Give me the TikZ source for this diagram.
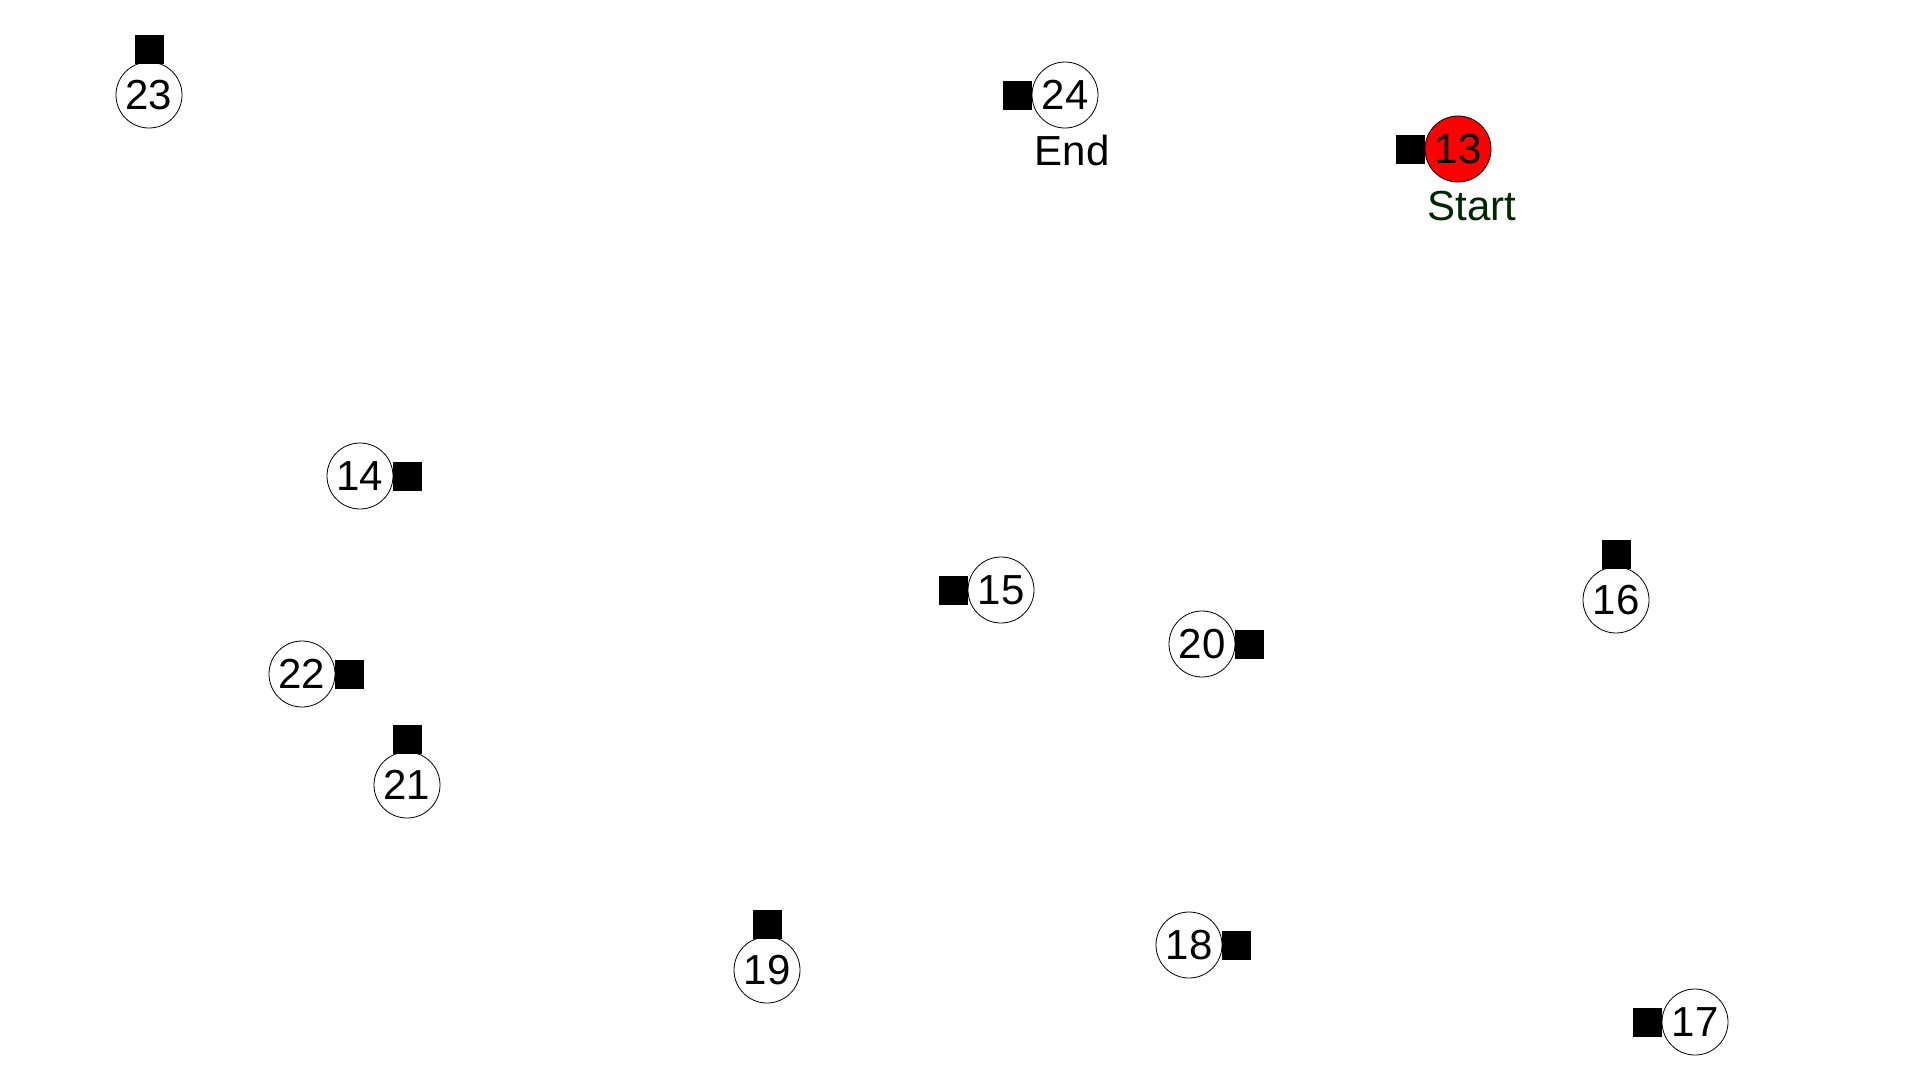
\documentclass[tikz,border=0pt]{standalone}
\usepackage{fontspec}
\setmainfont{Liberation Sans}
\definecolor{startgreen}{RGB}{0,40,0}
\begin{document}
\begin{tikzpicture}[x=1pt,y=-1pt,
  vtx/.style={circle,draw=black,line width=0.8pt,fill=white,minimum size=66pt,inner sep=0pt,font=\fontsize{42}{42}\selectfont},
  sq/.style={fill=black,minimum size=29pt,inner sep=0pt},
  lbl/.style={font=\fontsize{42}{42}\selectfont,anchor=base}]
\useasboundingbox (0,0) rectangle (1920,1080);
% vertices
\node[vtx] (n23) at (149,95) {23};
\node[vtx] (n24) at (1065,95) {24};
\node[vtx,fill=red] (n13) at (1458,149) {13};
\node[vtx] (n14) at (360,476) {14};
\node[vtx] (n15) at (1001,590) {15};
\node[vtx] (n20) at (1202,644) {20};
\node[vtx] (n22) at (302,674) {22};
\node[vtx] (n21) at (407,785) {21};
\node[vtx] (n19) at (767,970) {19};
\node[vtx] (n18) at (1189,945) {18};
\node[vtx] (n16) at (1616,600) {16};
\node[vtx] (n17) at (1695,1022) {17};
% markers (drawn behind-touching the circles)
\node[sq,anchor=south] (s23) at ([yshift=-3pt]n23.north) {};
\node[sq,anchor=east] (s24) at ([xshift=1pt]n24.west) {};
\node[sq,anchor=east] (s13) at ([xshift=1pt]n13.west) {};
\node[sq,anchor=west] (s14) at ([xshift=-1pt]n14.east) {};
\node[sq,anchor=east] (s15) at ([xshift=1pt]n15.west) {};
\node[sq,anchor=west] (s20) at ([xshift=-1pt]n20.east) {};
\node[sq,anchor=west] (s22) at ([xshift=-1pt]n22.east) {};
\node[sq,anchor=south] (s21) at ([yshift=-3pt]n21.north) {};
\node[sq,anchor=south] (s19) at ([yshift=-3pt]n19.north) {};
\node[sq,anchor=west] (s18) at ([xshift=-1pt]n18.east) {};
\node[sq,anchor=south] (s16) at ([yshift=-3pt]n16.north) {};
\node[sq,anchor=east] (s17) at ([xshift=1pt]n17.west) {};
% labels
\node[lbl] (tend) at (1072,165) {End};
\node[lbl,text=startgreen] (tstart) at (1472,220) {Start};
\end{tikzpicture}
\end{document}
